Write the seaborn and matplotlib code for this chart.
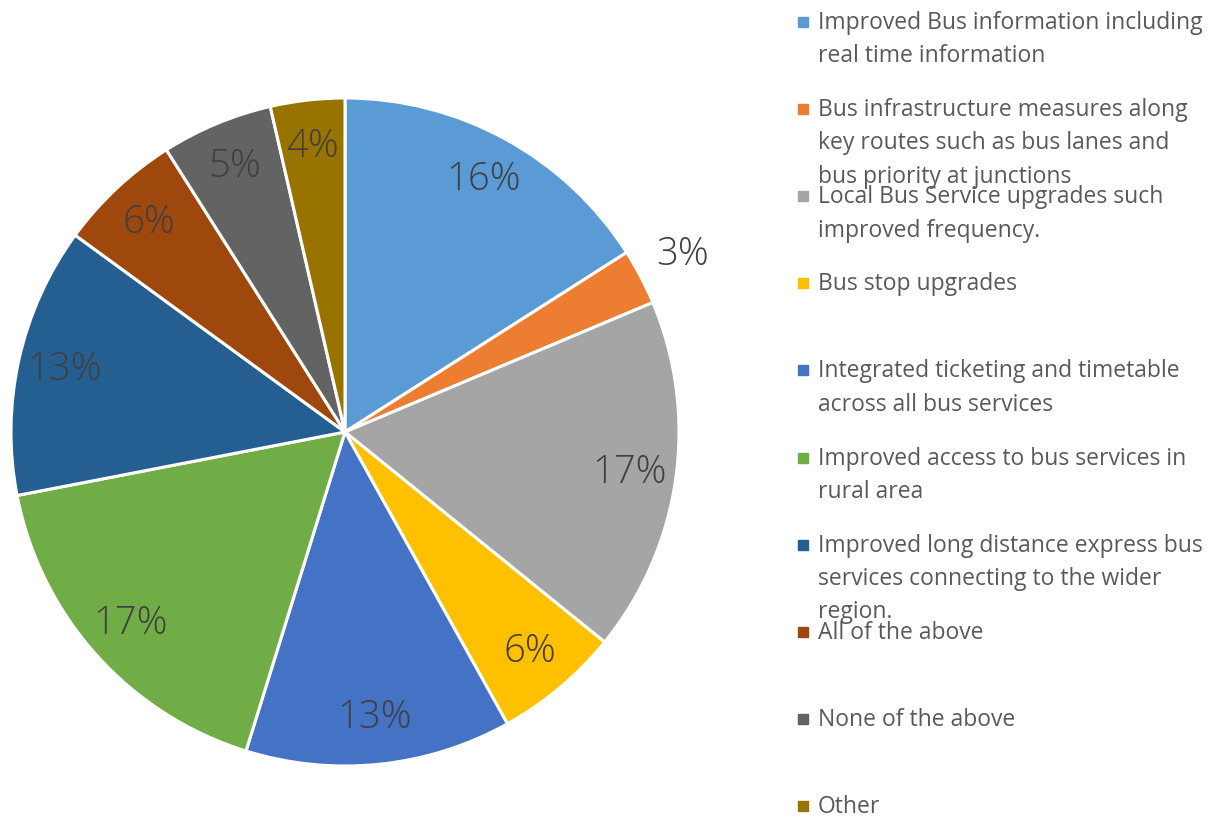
import matplotlib.pyplot as plt
import matplotlib.patches as mpatches
import numpy as np
import seaborn as sns

categories = [
    'Improved Bus information including\nreal time information',
    'Bus infrastructure measures along\nkey routes such as bus lanes and\nbus priority at junctions',
    'Local Bus Service upgrades such\nimproved frequency.',
    'Bus stop upgrades',
    'Integrated ticketing and timetable\nacross all bus services',
    'Improved access to bus services in\nrural area',
    'Improved long distance express bus\nservices connecting to the wider\nregion.',
    'All of the above',
    'None of the above',
    'Other',
]
shares = [16.0, 2.7, 17.2, 6.1, 12.9, 17.2, 13.1, 6.0, 5.4, 3.6]
colors = ['#5B9BD5', '#ED7D31', '#A5A5A5', '#FFC000', '#4472C4',
          '#70AD47', '#255E91', '#9E480E', '#636363', '#997300']

sns.set_theme(style='white')
plt.rcParams['font.family'] = ['Open Sans', 'DejaVu Sans']
palette = sns.color_palette(colors)

W, H = 1223, 816
fig = plt.figure(figsize=(W / 100, H / 100), dpi=100)
ax = fig.add_axes([11 / W, 50 / H, 668 / W, 668 / H])

wedges, texts, autotexts = ax.pie(
    shares, colors=palette, startangle=90, counterclock=False,
    radius=1, autopct='%.0f%%', pctdistance=0.86,
    wedgeprops=dict(edgecolor='white', linewidth=2.2),
    textprops=dict(color='#404040', fontsize=27.5, fontweight='light'),
)
# small slices get the label outside
for w, t, v in zip(wedges, autotexts, shares):
    if v < 3.5:
        mid = np.deg2rad((w.theta1 + w.theta2) / 2)
        t.set_position((1.14 * np.cos(mid), 1.14 * np.sin(mid)))
ax.set_xlim(-1, 1)
ax.set_ylim(-1, 1)
ax.set_aspect('equal')
ax.axis('off')

# legend on the right, equal spacing
y0, step = 22, 87.1
for i, (lab, col) in enumerate(zip(categories, palette)):
    yc = y0 + i * step
    fig.patches.append(mpatches.Rectangle(
        (798 / W, 1 - (yc + 5) / H), 10 / W, 10 / H,
        transform=fig.transFigure, color=col, figure=fig))
    fig.text(818 / W, 1 - (yc - 11) / H, lab, va='top', ha='left',
             fontsize=16.5, color='#595959', linespacing=1.52)

fig.savefig('out.png', dpi=100)
